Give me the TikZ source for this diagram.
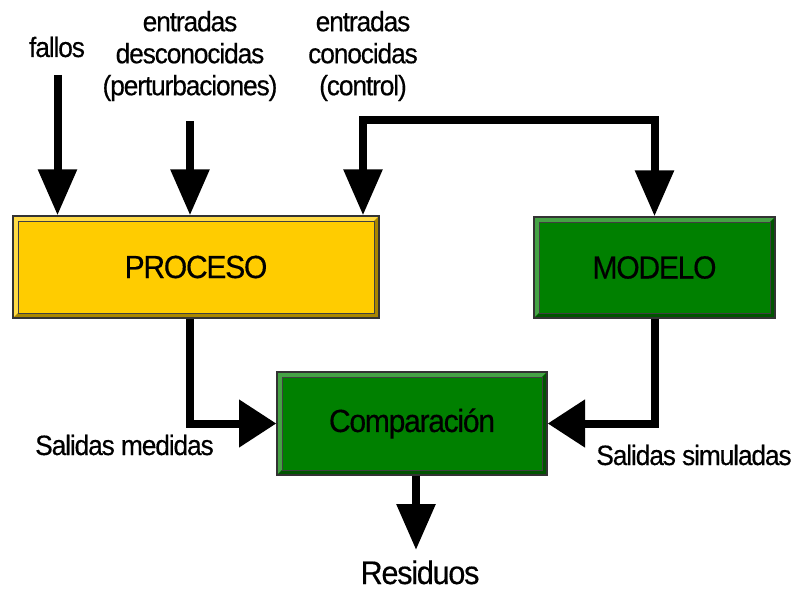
\documentclass[tikz,border=0pt]{standalone}
\usepackage{fontspec}
\setmainfont{Liberation Sans}[FakeStretch=0.94, LetterSpace=-4, FakeBold=0.4]
\usepackage{xcolor}
\usetikzlibrary{arrows.meta}

\definecolor{procYellow}{HTML}{FFCC00}
\definecolor{procLight}{HTML}{FFDA45}
\definecolor{procDark}{HTML}{A88600}
\definecolor{modGreen}{HTML}{008000}
\definecolor{modLight}{HTML}{45A345}
\definecolor{modDark}{HTML}{005400}

\tikzset{
    vhead/.tip={Triangle[length=34.5pt,width=28pt]},
    hhead/.tip={Triangle[length=28pt,width=34.5pt]},
    flowline/.style={line width=6pt},
    lbl/.style={font=\fontsize{21}{24}\selectfont, align=center, inner sep=0pt},
    boxlbl/.style={font=\fontsize{24}{28}\selectfont},
    block/.style n args={3}{draw=black!80, line width=1pt, fill=#1, inner sep=0pt, boxlbl,
        path picture={
            \coordinate (nw) at (path picture bounding box.north west);
            \coordinate (ne) at (path picture bounding box.north east);
            \coordinate (sw) at (path picture bounding box.south west);
            \coordinate (se) at (path picture bounding box.south east);
            % bevel
            \fill[#2] (nw) -- (ne) -- ([shift={(-3.75pt,-3.75pt)}]ne) -- ([shift={(3.75pt,-3.75pt)}]nw)
                -- ([shift={(3.75pt,3.75pt)}]sw) -- (sw) -- cycle;
            \fill[#3] (se) -- (ne) -- ([shift={(-3.75pt,-3.75pt)}]ne) -- ([shift={(-3.75pt,3.75pt)}]se)
                -- ([shift={(3.75pt,3.75pt)}]sw) -- (sw) -- cycle;
            \draw[black!75, line width=0.6pt] ([shift={(3.75pt,-3.75pt)}]nw) rectangle ([shift={(-3.75pt,3.75pt)}]se);
        }}
}

\begin{document}
\begin{tikzpicture}[x=0.75pt,y=-0.75pt]
    \useasboundingbox (0,0) rectangle (795,592);

    % blocks
    \node[block={procYellow}{procLight}{procDark}, minimum width=274.5pt, minimum height=76.5pt] (proceso) at (196,267) {PROCESO};
    \node[block={modGreen}{modLight}{modDark}, minimum width=180.75pt, minimum height=75.75pt] (modelo) at (654.5,267.5) {MODELO};
    \node[block={modGreen}{modLight}{modDark}, minimum width=202.5pt, minimum height=77.25pt] (comp) at (412,423.5) {Comparación};

    % labels
    \node[lbl, anchor=base] (fallos) at (57,57) {fallos};
    \node[lbl] (desc) at (190,56) {entradas\\desconocidas\\(perturbaciones)};
    \node[lbl] (conoc) at (363,56) {entradas\\conocidas\\(control)};
    \node[lbl, anchor=base] (smed) at (124.5,455) {Salidas medidas};
    \node[lbl, anchor=base] (ssim) at (694,465) {Salidas simuladas};
    \node[font=\fontsize{24.5}{28}\selectfont, anchor=base, inner sep=0pt] (resid) at (420,584) {Residuos};

    % connector ends
    \coordinate (fstart) at (57.5,75);
    \coordinate (pstart) at (190,121);
    \coordinate (cbend) at (363,120);
    \coordinate (pout) at ([xshift=-4.5pt]proceso.south);
    \coordinate (cout) at ([xshift=3pt]comp.south);
    \coordinate (rtip) at (416,550);

    % inputs
    \draw[flowline, -vhead] (fstart) -- (fstart |- proceso.north);
    \draw[flowline, -vhead] (pstart) -- (pstart |- proceso.north);
    \draw[flowline, vhead-vhead] (cbend |- proceso.north) -- (cbend) -- (cbend -| modelo.north) -- (modelo.north);

    % outputs
    \draw[flowline, -hhead] (pout) -- (pout |- comp.west) -- (comp.west);
    \draw[flowline, -hhead] (modelo.south) -- (modelo.south |- comp.east) -- (comp.east);
    \draw[flowline, -vhead] (cout) -- (cout |- rtip);

\end{tikzpicture}
\end{document}
